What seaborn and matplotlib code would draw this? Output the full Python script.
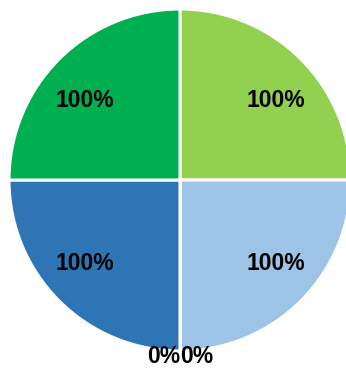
import matplotlib
matplotlib.use("Agg")
import matplotlib.pyplot as plt
import seaborn as sns

# Slice values (percent), clockwise from the top
values = [100, 100, 0, 0, 100, 100]
colors = ["#92D050", "#9DC3E6", "#9DC3E6", "#2E75B6", "#2E75B6", "#00B050"]

sns.set_theme(style="white")
plt.rcParams["font.family"] = ["Liberation Sans", "DejaVu Sans"]

fig = plt.figure(figsize=(3.46, 3.68), dpi=100)
ax = fig.add_axes([9 / 346, 17 / 368, 342 / 346, 342 / 368])

# empty slices are labelled just outside the rim, the others inside
outer_labels = [f"{v}%" if v == 0 else "" for v in values]
inner_labels = iter([f"{v}%" if v != 0 else "" for v in values])

wedges, texts, autotexts = ax.pie(
    values,
    colors=colors,
    labels=outer_labels,
    autopct=lambda p: next(inner_labels),
    startangle=90,
    counterclock=False,
    labeldistance=1.03,
    pctdistance=0.79,
    wedgeprops=dict(edgecolor="white", linewidth=2.2),
    textprops=dict(fontsize=16.5, fontweight="bold", color="black"),
)

# inner labels sit a little flatter than the slice bisector
for t in autotexts:
    x, y = t.get_position()
    t.set_position((x, y * 0.853 - 0.012))

# the two empty slices meet at the bottom: put their labels side by side
zero_texts = [t for t, v in zip(texts, values) if v == 0]
if len(zero_texts) == 2:
    zero_texts[0].set_horizontalalignment("right")
    zero_texts[1].set_horizontalalignment("left")

ax.set_xlim(-1, 1)
ax.set_ylim(-1, 1)
ax.set_aspect("auto")
ax.axis("off")

fig.savefig("out.png", dpi=100)
